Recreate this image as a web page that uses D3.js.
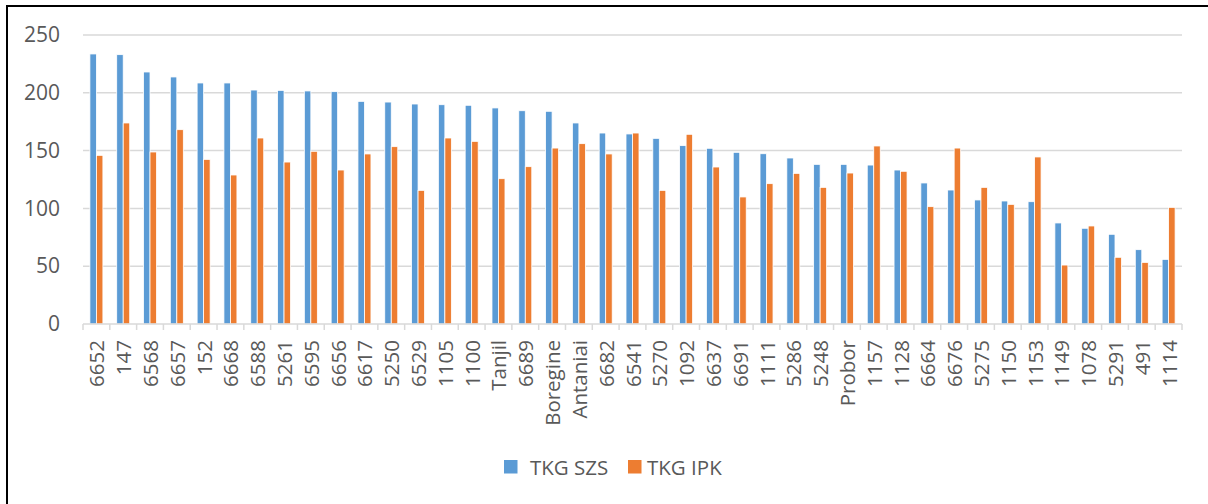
<!DOCTYPE html>
<html>
<head>
<meta charset="utf-8">
<script src="https://cdn.jsdelivr.net/npm/d3@7"></script>
<style>
  html, body { margin: 0; padding: 0; background: #fff; }
  svg { display: block; }
  text { font-family: "Open Sans", "Liberation Sans", sans-serif; fill: #595959; }
</style>
</head>
<body>
<svg id="chart" width="1208" height="504"></svg>
<script>
// Genotype codes along the x axis
const categories = ["6652","147","6568","6657","152","6668","6588","5261","6595","6656",
  "6617","5250","6529","1105","1100","Tanjil","6689","Boregine","Antaniai","6682",
  "6541","5270","1092","6637","6691","1111","5286","5248","Probor","1157",
  "1128","6664","6676","5275","1150","1153","1149","1078","5291","491","1114"];

// Series values
const tkgSZS = [233.6,233,218,213.7,208.5,208.5,202.4,202.1,201.6,201,
  192.6,192,190.3,189.7,189.2,186.9,184.5,184,173.9,165.2,
  164.4,160.6,154.3,152,148.5,147.3,143.6,138.1,138.1,137.5,
  133.2,122,115.9,107.3,106.4,105.8,87.4,82.8,77.6,64.3,55.9];
const tkgIPK = [145.9,173.9,148.8,168.1,142.4,128.9,160.9,140.1,149.4,133.2,
  147.1,153.4,115.6,160.9,158,125.7,136.1,152.2,156,147.1,
  165.2,115.6,164.1,135.8,109.9,121.4,130.3,118.2,130.6,154,
  132.1,101.5,152.2,118.2,103.5,144.5,51,84.8,57.7,53.3,100.9];

const seriesNames = ["TKG SZS", "TKG IPK"];
const seriesColors = ["#5b9bd5", "#ed7d31"];
const yTicks = [0, 50, 100, 150, 200, 250];

const svg = d3.select("#chart");

// Outer chart frame (right and bottom edges run past the page)
svg.append("rect")
  .attr("x", 7).attr("y", 6)
  .attr("width", 1220).attr("height", 520)
  .attr("fill", "none").attr("stroke", "#000").attr("stroke-width", 2);

const plot = { left: 83, right: 1182, top: 35, bottom: 324 };

const x0 = d3.scaleBand()
  .domain(categories)
  .range([plot.left, plot.right])
  .paddingInner(0.515)
  .paddingOuter(0.2575);

const x1 = d3.scaleBand()
  .domain(seriesNames)
  .range([0, x0.bandwidth()]);

const y = d3.scaleLinear()
  .domain([0, 250])
  .range([plot.bottom, plot.top]);

// Horizontal gridlines
svg.append("g")
  .selectAll("line")
  .data(yTicks.filter(d => d > 0))
  .join("line")
  .attr("x1", plot.left).attr("x2", plot.right)
  .attr("y1", d => y(d)).attr("y2", d => y(d))
  .attr("stroke", "#d9d9d9").attr("stroke-width", 1.5);

// Y axis labels
const yAxis = d3.axisLeft(y).tickValues(yTicks).tickSize(0).tickPadding(0);
const gy = svg.append("g").attr("transform", `translate(60,0)`).call(yAxis);
gy.select(".domain").remove();
gy.selectAll("text")
  .attr("font-size", 21)
  .attr("fill", "#595959")
  .style("font-family", '"Open Sans", "Liberation Sans", sans-serif');

// Bars
const rows = categories.map((c, i) => ({ cat: c, vals: [tkgSZS[i], tkgIPK[i]] }));
const groups = svg.append("g")
  .selectAll("g")
  .data(rows)
  .join("g")
  .attr("transform", d => `translate(${x0(d.cat)},0)`);

groups.selectAll("rect")
  .data(d => d.vals.map((v, k) => ({ name: seriesNames[k], v, k })))
  .join("rect")
  .attr("x", d => x1(d.name))
  .attr("width", x1.bandwidth())
  .attr("y", d => y(d.v))
  .attr("height", d => y(0) - y(d.v))
  .attr("fill", d => seriesColors[d.k])
  .attr("stroke", "#fff")
  .attr("stroke-width", 0.8);

// X axis: baseline with tick marks at category boundaries
const gx = svg.append("g").attr("transform", `translate(0,${plot.bottom})`);
gx.append("line")
  .attr("x1", plot.left).attr("x2", plot.right)
  .attr("y1", 0).attr("y2", 0)
  .attr("stroke", "#d9d9d9").attr("stroke-width", 1.5);
const step = x0.step();
gx.selectAll("line.tick")
  .data(d3.range(categories.length + 1))
  .join("line")
  .attr("class", "tick")
  .attr("x1", i => plot.left + i * step)
  .attr("x2", i => plot.left + i * step)
  .attr("y1", 0).attr("y2", 6)
  .attr("stroke", "#d9d9d9").attr("stroke-width", 1.5);

gx.selectAll("text")
  .data(categories)
  .join("text")
  .attr("transform", d => `translate(${x0(d) + x0.bandwidth() / 2},16) rotate(-90)`)
  .attr("text-anchor", "end")
  .attr("dominant-baseline", "central")
  .attr("font-size", 20.5)
  .text(d => d);

// Legend
const legend = svg.append("g");
const legendItems = [
  { name: seriesNames[0], color: seriesColors[0], x: 504, gap: 26 },
  { name: seriesNames[1], color: seriesColors[1], x: 628, gap: 19 }
];
legendItems.forEach(it => {
  legend.append("rect")
    .attr("x", it.x).attr("y", 460)
    .attr("width", 13.5).attr("height", 13.5)
    .attr("fill", it.color);
  legend.append("text")
    .attr("x", it.x + it.gap)
    .attr("y", 467)
    .attr("dominant-baseline", "central")
    .attr("font-size", 20.5)
    .text(it.name);
});
</script>
</body>
</html>
